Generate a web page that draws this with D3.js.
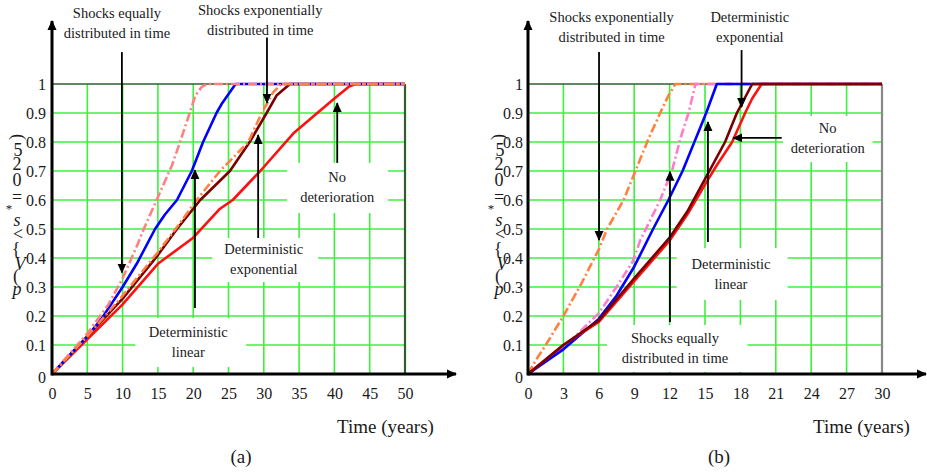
<!DOCTYPE html>
<html>
<head>
<meta charset="utf-8">
<script src="https://cdn.jsdelivr.net/npm/d3@7"></script>
<style>
  html, body { margin: 0; padding: 0; background: #fff; }
  svg { display: block; }
  text { font-family: "Liberation Serif", "Times New Roman", serif; fill: #1a1a1a; }
</style>
</head>
<body>
<svg id="chart" width="927" height="476"></svg>
<script>
// ---- data ----
const yTicks = [0, 0.1, 0.2, 0.3, 0.4, 0.5, 0.6, 0.7, 0.8, 0.9, 1];
const xTicksA = [0, 5, 10, 15, 20, 25, 30, 35, 40, 45, 50];
const xTicksB = [0, 3, 6, 9, 12, 15, 18, 21, 24, 27, 30];

// panel (a)
const aShocksEqual = [[0, 0], [5, 0.14], [8, 0.24], [10, 0.33], [12, 0.44], [13, 0.5], [15, 0.61], [17, 0.72], [18, 0.79], [19.5, 0.9], [20.3, 0.96], [21.2, 0.99], [22, 1], [50, 1]];
const aDetLinear = [[0, 0], [5, 0.13], [7, 0.19], [10, 0.3], [12, 0.38], [14.6, 0.5], [16, 0.55], [17.7, 0.6], [19.8, 0.7], [21.4, 0.8], [23.3, 0.9], [24, 0.93], [26, 1], [50, 1]];
const aShocksExp = [[0, 0], [5, 0.13], [10, 0.27], [15, 0.42], [17.5, 0.5], [20.5, 0.6], [23.8, 0.7], [27.8, 0.8], [29.7, 0.9], [31.3, 0.97], [32.5, 1], [50, 1]];
const aDetExp = [[0, 0], [5, 0.13], [10, 0.26], [15, 0.41], [17.7, 0.5], [21, 0.6], [25.2, 0.7], [28, 0.8], [30.4, 0.9], [31.8, 0.96], [33.7, 1], [50, 1]];
const aNoDet = [[0, 0], [5, 0.12], [10, 0.24], [15, 0.38], [20, 0.47], [23.8, 0.57], [25.6, 0.6], [29.5, 0.7], [34.2, 0.83], [40, 0.95], [42, 0.99], [43, 1], [50, 1]];

// panel (b)
const bShocksExp = [[0, 0], [0.7, 0.05], [1.5, 0.1], [3, 0.2], [4.5, 0.31], [6, 0.43], [6.7, 0.5], [8.1, 0.6], [9.1, 0.7], [10.2, 0.81], [11.2, 0.9], [11.9, 0.96], [12.5, 1], [30, 1]];
const bShocksEqual = [[0, 0], [3, 0.09], [6, 0.21], [7.5, 0.3], [8.9, 0.39], [9.5, 0.46], [11.2, 0.6], [12.2, 0.7], [12.9, 0.81], [13.6, 0.9], [14.2, 1], [30, 1]];
const bDetLinear = [[0, 0], [3, 0.085], [6, 0.19], [7.5, 0.27], [9, 0.37], [10.6, 0.5], [11.9, 0.6], [13.1, 0.7], [14.1, 0.8], [15.1, 0.9], [16, 1], [30, 1]];
const bNoDet = [[0, 0], [3, 0.1], [6, 0.18], [9, 0.32], [12, 0.46], [13.5, 0.55], [15.1, 0.66], [16, 0.72], [17.3, 0.8], [18.4, 0.9], [19, 0.95], [19.8, 1], [30, 1]];
const bDetExp = [[0, 0], [3, 0.1], [6, 0.185], [9, 0.33], [12, 0.47], [13.5, 0.56], [15.1, 0.68], [16.7, 0.8], [17.7, 0.9], [19, 1], [30, 1]];

// annotations: text position, optional white box, arrow (data units)
const aNotes = [
  { lines: ['Shocks equally', 'distributed in time'], tx: 9.2, ty: 1.245, arrow: [9.9, 1.11, 9.9, 0.35] },
  { lines: ['Shocks exponentially', 'distributed in time'], tx: 29.5, ty: 1.255, arrow: [30.45, 1.16, 30.45, 0.935] },
  { lines: ['No', 'deterioration'], tx: 40.4, ty: 0.679, box: [33.3, 0.728, 47.6, 0.555], arrow: [40.4, 0.728, 40.4, 0.934] },
  { lines: ['Deterministic', 'exponential'], tx: 30.0, ty: 0.431, box: [22.7, 0.469, 37.7, 0.317], arrow: [29.2, 0.469, 29.2, 0.824] },
  { lines: ['Deterministic', 'linear'], tx: 19.3, ty: 0.145, box: [11.8, 0.193, 27.5, 0.024], arrow: [20.25, 0.228, 20.25, 0.703] }
];
const bNotes = [
  { lines: ['Shocks exponentially', 'distributed in time'], tx: 7.08, ty: 1.231, arrow: [6.02, 1.11, 6.02, 0.462] },
  { lines: ['Deterministic', 'exponential'], tx: 18.8, ty: 1.231, arrow: [18.1, 1.117, 18.1, 0.921] },
  { lines: ['No', 'deterioration'], tx: 25.4, ty: 0.848, box: [21.6, 0.89, 29.2, 0.731], arrow: [21.5, 0.814, 17.4, 0.814] },
  { lines: ['Deterministic', 'linear'], tx: 17.2, ty: 0.378, box: [12.6, 0.434, 22.0, 0.255], arrow: [15.25, 0.455, 15.25, 0.869] },
  { lines: ['Shocks equally', 'distributed in time'], tx: 12.46, ty: 0.124, box: [6.7, 0.169, 18.6, 0.007], arrow: [12.03, 0.179, 12.03, 0.697] }
];

// ---- styles ----
const GRID = '#3ef03e';
const FRAME = '#2f5f2f';
const DASHDOT = '9,3,2,3';

const svg = d3.select('#chart');
const defs = svg.append('defs');
defs.append('marker')
  .attr('id', 'arrowhead')
  .attr('viewBox', '0 0 10 10')
  .attr('refX', 9).attr('refY', 5)
  .attr('markerWidth', 10).attr('markerHeight', 10)
  .attr('markerUnits', 'userSpaceOnUse')
  .attr('orient', 'auto')
  .append('path').attr('d', 'M0,0.5 L10,5 L0,9.5 Z').attr('fill', '#000');

// y-axis label glyphs (the original is a broken equation render)
const yLabelGlyphs = [
  { ch: 'p', y: 289, italic: true, dx: 0 },
  { ch: '(', y: 276, dx: -1 },
  { ch: 'V', y: 264, italic: true, dx: 3 },
  { ch: '{', y: 249, dx: -1 },
  { ch: '<', y: 234, dx: 1 },
  { ch: 's', y: 220, italic: true, dx: 0 },
  { ch: '*', y: 208, dx: -8, size: 13 },
  { ch: '=', y: 197, dx: 0 },
  { ch: '0', y: 180, dx: 0 },
  { ch: '2', y: 164, dx: 0 },
  { ch: '5', y: 150, dx: 1 },
  { ch: ')', y: 137, dx: -1, rot: -90 }
];

function drawPanel(cfg) {
  const x = d3.scaleLinear().domain(cfg.xDomain).range(cfg.xRange);
  const y = d3.scaleLinear().domain([0, 1]).range([374, 84]);
  const g = svg.append('g');
  const x0 = x(cfg.xDomain[0]);
  const x1 = x(cfg.xDomain[1]);

  // grid
  const grid = g.append('g');
  grid.selectAll('line.v').data(cfg.xTicks.slice(1, -1)).enter().append('line')
    .attr('x1', d => x(d)).attr('x2', d => x(d))
    .attr('y1', y(0)).attr('y2', y(1))
    .attr('stroke', GRID).attr('stroke-width', 1.6);
  grid.selectAll('line.h').data(yTicks.slice(1, -1)).enter().append('line')
    .attr('x1', x0).attr('x2', x1)
    .attr('y1', d => y(d)).attr('y2', d => y(d))
    .attr('stroke', GRID).attr('stroke-width', 1.6);
  grid.append('line')
    .attr('x1', x1).attr('x2', x1).attr('y1', y(0)).attr('y2', y(1))
    .attr('stroke', cfg.rightColor).attr('stroke-width', 2.2);
  grid.append('line')
    .attr('x1', x0).attr('x2', x1).attr('y1', y(1)).attr('y2', y(1))
    .attr('stroke', FRAME).attr('stroke-width', 1.6);

  // white label boxes cut the grid
  cfg.notes.filter(n => n.box).forEach(n => {
    g.append('rect')
      .attr('x', x(n.box[0])).attr('y', y(n.box[1]))
      .attr('width', x(n.box[2]) - x(n.box[0]))
      .attr('height', y(n.box[3]) - y(n.box[1]))
      .attr('fill', '#fff');
  });

  // curves
  const line = d3.line().x(d => x(d[0])).y(d => y(d[1])).curve(d3.curveLinear);
  cfg.series.forEach(s => {
    g.append('path')
      .attr('d', line(s.data))
      .attr('fill', 'none')
      .attr('stroke', s.color)
      .attr('stroke-width', 2.6)
      .attr('stroke-linejoin', 'round')
      .attr('stroke-dasharray', s.dash || null);
  });

  // axes
  const xAxis = d3.axisBottom(x).tickValues(cfg.xTicks).tickSize(0).tickPadding(14);
  const yAxis = d3.axisLeft(y).tickValues(yTicks).tickSize(0).tickPadding(cfg.yPad)
    .tickFormat(d => d === 0 || d === 1 ? String(d) : d3.format('.1f')(d));
  const gx = g.append('g').attr('transform', `translate(0,${y(0)})`).call(xAxis);
  const gy = g.append('g').attr('transform', `translate(${x0},0)`).call(yAxis);
  [gx, gy].forEach(a => {
    a.select('.domain').remove();
    a.selectAll('text').attr('font-size', 16)
      .attr('font-family', '"Liberation Serif", serif').attr('fill', '#1a1a1a');
  });
  gy.selectAll('.tick').filter(d => d === 0).select('text').attr('dy', '0.55em');

  g.append('line')
    .attr('x1', x0).attr('y1', y(0)).attr('x2', cfg.xArrowEnd).attr('y2', y(0))
    .attr('stroke', '#000').attr('stroke-width', 3)
    .attr('marker-end', 'url(#arrowhead)');
  g.append('line')
    .attr('x1', x0).attr('y1', y(0) + 1.5).attr('x2', x0).attr('y2', 21)
    .attr('stroke', '#000').attr('stroke-width', 3)
    .attr('marker-end', 'url(#arrowhead)');

  // annotations
  cfg.notes.forEach(n => {
    const a = n.arrow;
    g.append('line')
      .attr('x1', x(a[0])).attr('y1', y(a[1]))
      .attr('x2', x(a[2])).attr('y2', y(a[3]))
      .attr('stroke', '#000').attr('stroke-width', 1.8)
      .attr('marker-end', 'url(#arrowhead)');
    const t = g.append('text')
      .attr('x', x(n.tx)).attr('y', y(n.ty))
      .attr('text-anchor', 'middle')
      .attr('font-size', 14.5);
    n.lines.forEach((l, i) => {
      t.append('tspan').attr('x', x(n.tx)).attr('dy', i === 0 ? '0.35em' : 20).text(l);
    });
  });

  // y label glyphs
  const yl = g.append('g');
  yLabelGlyphs.forEach(gl => {
    const px = cfg.yLabelX + gl.dx;
    yl.append('text')
      .attr('x', px).attr('y', gl.y)
      .attr('text-anchor', 'middle')
      .attr('dominant-baseline', 'central')
      .attr('font-size', gl.size || 18)
      .attr('font-style', gl.italic ? 'italic' : null)
      .attr('transform', gl.rot ? `rotate(${gl.rot},${px},${gl.y})` : null)
      .text(gl.ch);
  });

  // axis title and panel caption
  g.append('text').attr('x', cfg.titleX).attr('y', 433).attr('font-size', 19).text('Time (years)');
  g.append('text').attr('x', cfg.capX).attr('y', 463).attr('text-anchor', 'middle')
    .attr('font-size', 19).text(cfg.caption);
}

drawPanel({
  xDomain: [0, 50], xRange: [52, 405], xTicks: xTicksA, xArrowEnd: 456, yPad: 6,
  rightColor: FRAME, notes: aNotes, yLabelX: 17, titleX: 337, capX: 241, caption: '(a)',
  series: [
    { data: aNoDet, color: '#ff1010' },
    { data: aDetExp, color: '#7a0000' },
    { data: aDetLinear, color: '#0000ff' },
    { data: aShocksEqual, color: '#ff8080', dash: DASHDOT },
    { data: aShocksExp, color: '#ff8040', dash: DASHDOT }
  ]
});

drawPanel({
  xDomain: [0, 30], xRange: [528, 882], xTicks: xTicksB, xArrowEnd: 926, yPad: 5,
  rightColor: '#888888', notes: bNotes, yLabelX: 499, titleX: 813, capX: 719, caption: '(b)',
  series: [
    { data: bShocksExp, color: '#ff8040', dash: DASHDOT },
    { data: bShocksEqual, color: '#ff7ccc', dash: DASHDOT },
    { data: bDetLinear, color: '#0000ff' },
    { data: bNoDet, color: '#ff1010' },
    { data: bDetExp, color: '#7a0000' }
  ]
});
</script>
</body>
</html>
